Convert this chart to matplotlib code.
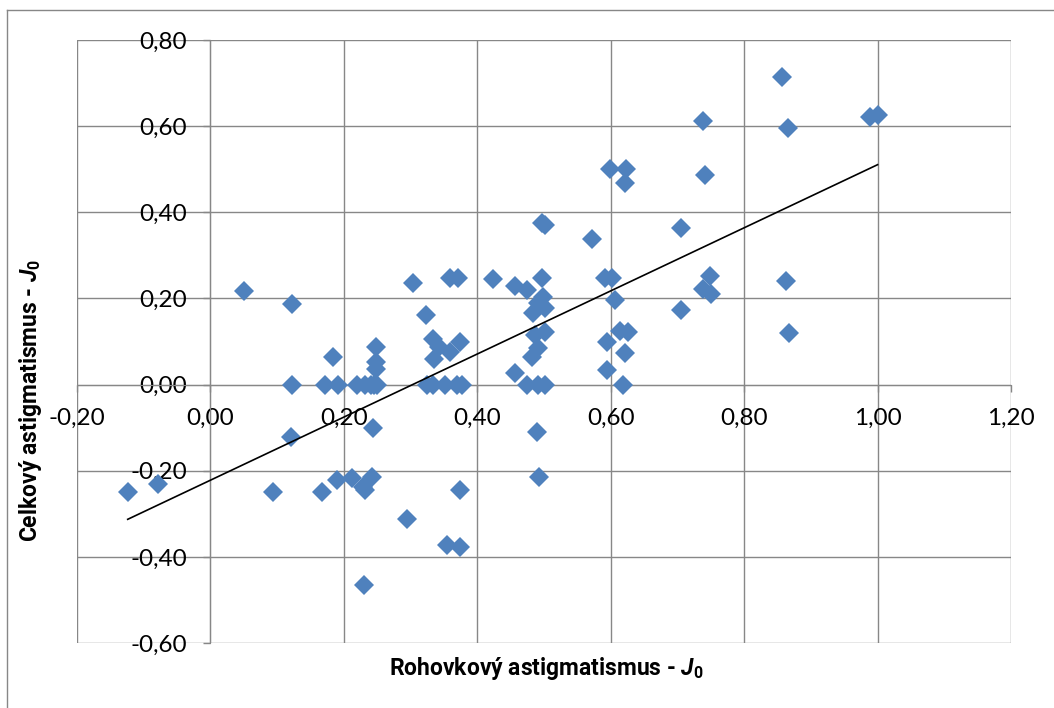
import numpy as np
import matplotlib
matplotlib.use("Agg")
import matplotlib.pyplot as plt
from matplotlib.ticker import FuncFormatter, MultipleLocator
from matplotlib.lines import Line2D

# corneal J0 (x) vs. total J0 (y)
rohovkovy_j0 = [
    -0.124, -0.079, 0.050, 0.122, 0.122, 0.121, 0.094, 0.167, 0.190, 0.212,
    0.229, 0.232, 0.242, 0.230, 0.244, 0.295, 0.374, 0.490, 0.493, 0.355,
    0.374, 0.172, 0.184, 0.191, 0.220, 0.232, 0.240, 0.250, 0.248, 0.248,
    0.248, 0.304, 0.323, 0.325, 0.334, 0.334, 0.343, 0.335, 0.359, 0.374,
    0.352, 0.370, 0.377, 0.359, 0.371, 0.424, 0.457, 0.475, 0.497, 0.497,
    0.502, 0.572, 0.592, 0.602, 0.607, 0.499, 0.491, 0.484, 0.502, 0.487,
    0.502, 0.491, 0.482, 0.457, 0.475, 0.491, 0.502, 0.595, 0.595, 0.619,
    0.614, 0.626, 0.622, 0.599, 0.623, 0.622, 0.741, 0.705, 0.749, 0.738,
    0.750, 0.705, 0.857, 0.739, 0.866, 0.989, 1.000, 0.863, 0.867, 0.245,
]
celkovy_j0 = [
    -0.250, -0.230, 0.217, 0.186, 0.000, -0.122, -0.250, -0.250, -0.222, -0.217,
    -0.238, -0.245, -0.215, -0.465, -0.101, -0.312, -0.245, -0.110, -0.215, -0.372,
    -0.377, 0.000, 0.064, 0.000, 0.000, 0.000, 0.000, 0.000, 0.087, 0.052,
    0.036, 0.236, 0.161, 0.000, 0.000, 0.106, 0.087, 0.059, 0.075, 0.099,
    0.000, 0.000, 0.000, 0.247, 0.247, 0.245, 0.229, 0.220, 0.247, 0.375,
    0.370, 0.338, 0.248, 0.248, 0.196, 0.203, 0.190, 0.166, 0.178, 0.115,
    0.122, 0.084, 0.064, 0.027, 0.000, 0.000, 0.000, 0.099, 0.034, 0.000,
    0.125, 0.121, 0.073, 0.500, 0.500, 0.469, 0.486, 0.364, 0.252, 0.222,
    0.210, 0.173, 0.714, 0.612, 0.596, 0.621, 0.626, 0.240, 0.120, 0.000,
]

x = np.array(rohovkovy_j0)
y = np.array(celkovy_j0)

plt.rcParams["font.family"] = ["Lato", "DejaVu Sans"]
plt.rcParams["mathtext.fontset"] = "custom"
plt.rcParams["mathtext.it"] = "Roboto:italic:bold"
plt.rcParams["mathtext.rm"] = "Roboto:bold"

grid_col = "#878787"

fig = plt.figure(figsize=(10.54, 7.08), dpi=100)
ax = fig.add_axes([77 / 1054, 1 - 643 / 708, (1011 - 77) / 1054, (643 - 40) / 708])

# chart area border (left and top edge)
fig.add_artist(Line2D([7 / 1054, 7 / 1054], [0, 1 - 10 / 708], transform=fig.transFigure,
                      color=grid_col, lw=1.0))
fig.add_artist(Line2D([7 / 1054, 1], [1 - 10 / 708, 1 - 10 / 708], transform=fig.transFigure,
                      color=grid_col, lw=1.0))

ax.set_xlim(-0.2, 1.2)
ax.set_ylim(-0.6, 0.8)
ax.xaxis.set_major_locator(MultipleLocator(0.2))
ax.yaxis.set_major_locator(MultipleLocator(0.2))
fmt = FuncFormatter(lambda v, pos: f"{v:.2f}".replace(".", ",").replace("-0,00", "0,00"))
ax.xaxis.set_major_formatter(fmt)
ax.yaxis.set_major_formatter(fmt)

ax.grid(True, color=grid_col, lw=1.0)
ax.set_axisbelow(True)
for s in ["top", "right"]:
    ax.spines[s].set_visible(False)
ax.spines["left"].set_position(("data", 0))
ax.spines["bottom"].set_position(("data", 0))
ax.spines["left"].set_color(grid_col)
ax.spines["bottom"].set_color(grid_col)
ax.tick_params(axis="both", colors=grid_col, length=5, width=1.0, labelcolor="black",
               labelsize=17.5)
ax.tick_params(axis="y", pad=12)
ax.tick_params(axis="x", pad=12)

ax.plot(x, y, linestyle="none", marker="D", markersize=10, color="#4F81BD",
        markeredgewidth=0, zorder=3)

# linear trend line over the data range
k, q = np.polyfit(x, y, 1)
xt = np.array([x.min(), x.max()])
ax.plot(xt, k * xt + q, color="black", lw=1.2, zorder=4)

title_font = dict(family=["Roboto", "DejaVu Sans"], fontsize=16.5, fontweight="bold")
fig.text(546 / 1054, 1 - 668 / 708, r"Rohovkový astigmatismus - $\mathit{J_0}$",
         ha="center", va="center", **title_font)
fig.text(31 / 1054, 1 - 400 / 708, r"Celkový astigmatismus - $\mathit{J_0}$",
         ha="center", va="center", rotation=90, **title_font)

fig.savefig("out.png", dpi=100)
